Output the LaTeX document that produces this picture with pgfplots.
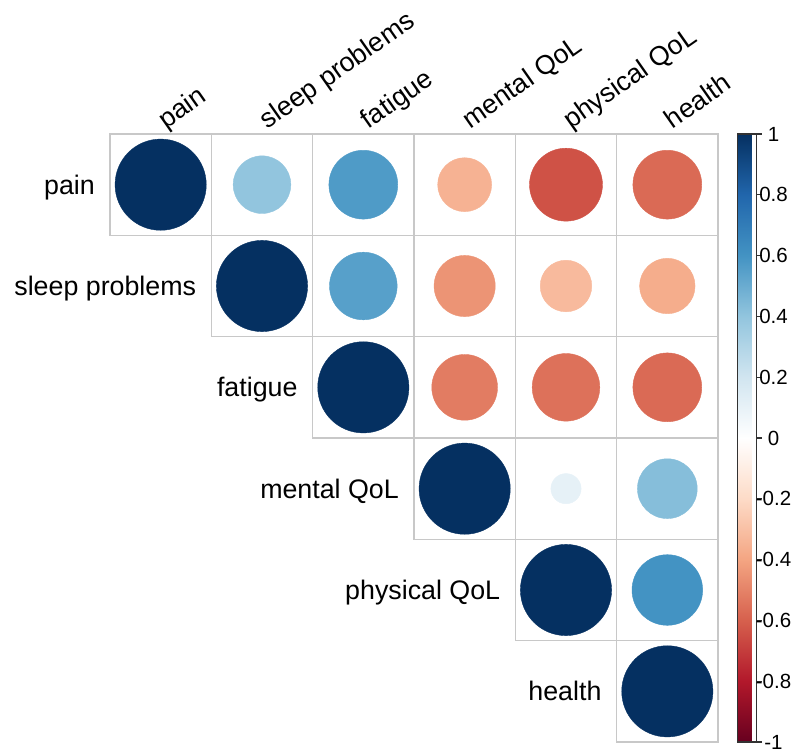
\documentclass[border=0pt]{standalone}
\usepackage{fontspec}
\setmainfont{Liberation Sans}
\usepackage{pgfplots}
\usepackage{pgfplotstable}
\pgfplotsset{compat=1.18}
\definecolor{gridgray}{RGB}{200,200,200}
\definecolor{bardark}{RGB}{50,50,50}
\pgfplotstableread{
x y r
1 1 1
2 1 0.40
3 1 0.57
4 1 -0.35
5 1 -0.64
6 1 -0.57
2 2 1
3 2 0.55
4 2 -0.45
5 2 -0.32
6 2 -0.37
3 3 1
4 3 -0.52
5 3 -0.55
6 3 -0.57
4 4 1
5 4 0.11
6 4 0.43
5 5 1
6 5 0.60
6 6 1
}\corr
\newcommand{\lab}{\fontsize{26.8bp}{32bp}\selectfont}
\newcommand{\tlab}{\fontsize{20.5bp}{24bp}\selectfont}
\tikzset{rowlab/.style={anchor=mid east, inner sep=0pt, font=\lab, xshift=-15bp, yshift=-7bp},
  collab/.style={anchor=base west, inner sep=0pt, font=\lab, xshift=11bp, rotate=35, xshift=-2bp, yshift=7bp}}
\begin{document}
\begin{tikzpicture}
\useasboundingbox (-110bp,-11bp) rectangle (687bp,742bp);
\begin{axis}[
  at={(0,0)}, anchor=south west,
  scale only axis, width=608bp, height=608bp,
  xmin=0.5, xmax=6.5, ymin=0.5, ymax=6.5, y dir=reverse,
  hide axis, clip=false,
  colormap={corrRdBu}{rgb255=(103,0,31) rgb255=(178,24,43) rgb255=(214,96,77) rgb255=(244,165,130) rgb255=(253,219,199) rgb255=(255,255,255) rgb255=(209,229,240) rgb255=(146,197,222) rgb255=(67,147,195) rgb255=(33,102,172) rgb255=(5,48,97)},
  point meta min=-1, point meta max=1,
  colorbar,
  colorbar style={
    at={(parent axis.north east)}, anchor=north west, xshift=11bp,
    width=19bp, height=608bp,
    ytick={-1,-0.8,-0.6,-0.4,-0.2,0,0.2,0.4,0.6,0.8,1},
    yticklabels={-1,-0.8,-0.6,-0.4,-0.2,0,0.2,0.4,0.6,0.8,1},
    yticklabel pos=right, ytick pos=right,
    tick align=outside, major tick length=5bp,
    yticklabel style={font=\tlab, anchor=center, xshift=12bp},
    axis line style={draw=bardark, line width=1.3bp},
    tick style={draw=bardark, line width=1.1bp},
  },
]
\addplot[only marks, mark=square, mark size=50.86pt,
  mark options={draw=gridgray, line width=1.5bp}] table[x=x, y=y] {\corr};
\addplot[scatter, only marks, mark=*, point meta=explicit,
  scatter/use mapped color={draw=mapped color, fill=mapped color},
  visualization depends on={45.77*sqrt(abs(\thisrow{r})) \as \rad},
  scatter/@pre marker code/.append style={/tikz/mark size=\rad}]
  table[x=x, y=y, meta=r] {\corr};
% row labels
\node[rowlab] at (axis cs:0.5,1) {pain};
\node[rowlab] at (axis cs:1.5,2) {sleep problems};
\node[rowlab] at (axis cs:2.5,3) {fatigue};
\node[rowlab] at (axis cs:3.5,4) {mental QoL};
\node[rowlab] at (axis cs:4.5,5) {physical QoL};
\node[rowlab] at (axis cs:5.5,6) {health};
% column labels
\node[collab] at (axis cs:1,0.5) {pain};
\node[collab] at (axis cs:2,0.5) {sleep problems};
\node[collab] at (axis cs:3,0.5) {fatigue};
\node[collab] at (axis cs:4,0.5) {mental QoL};
\node[collab] at (axis cs:5,0.5) {physical QoL};
\node[collab] at (axis cs:6,0.5) {health};
\end{axis}
\end{tikzpicture}
\end{document}
